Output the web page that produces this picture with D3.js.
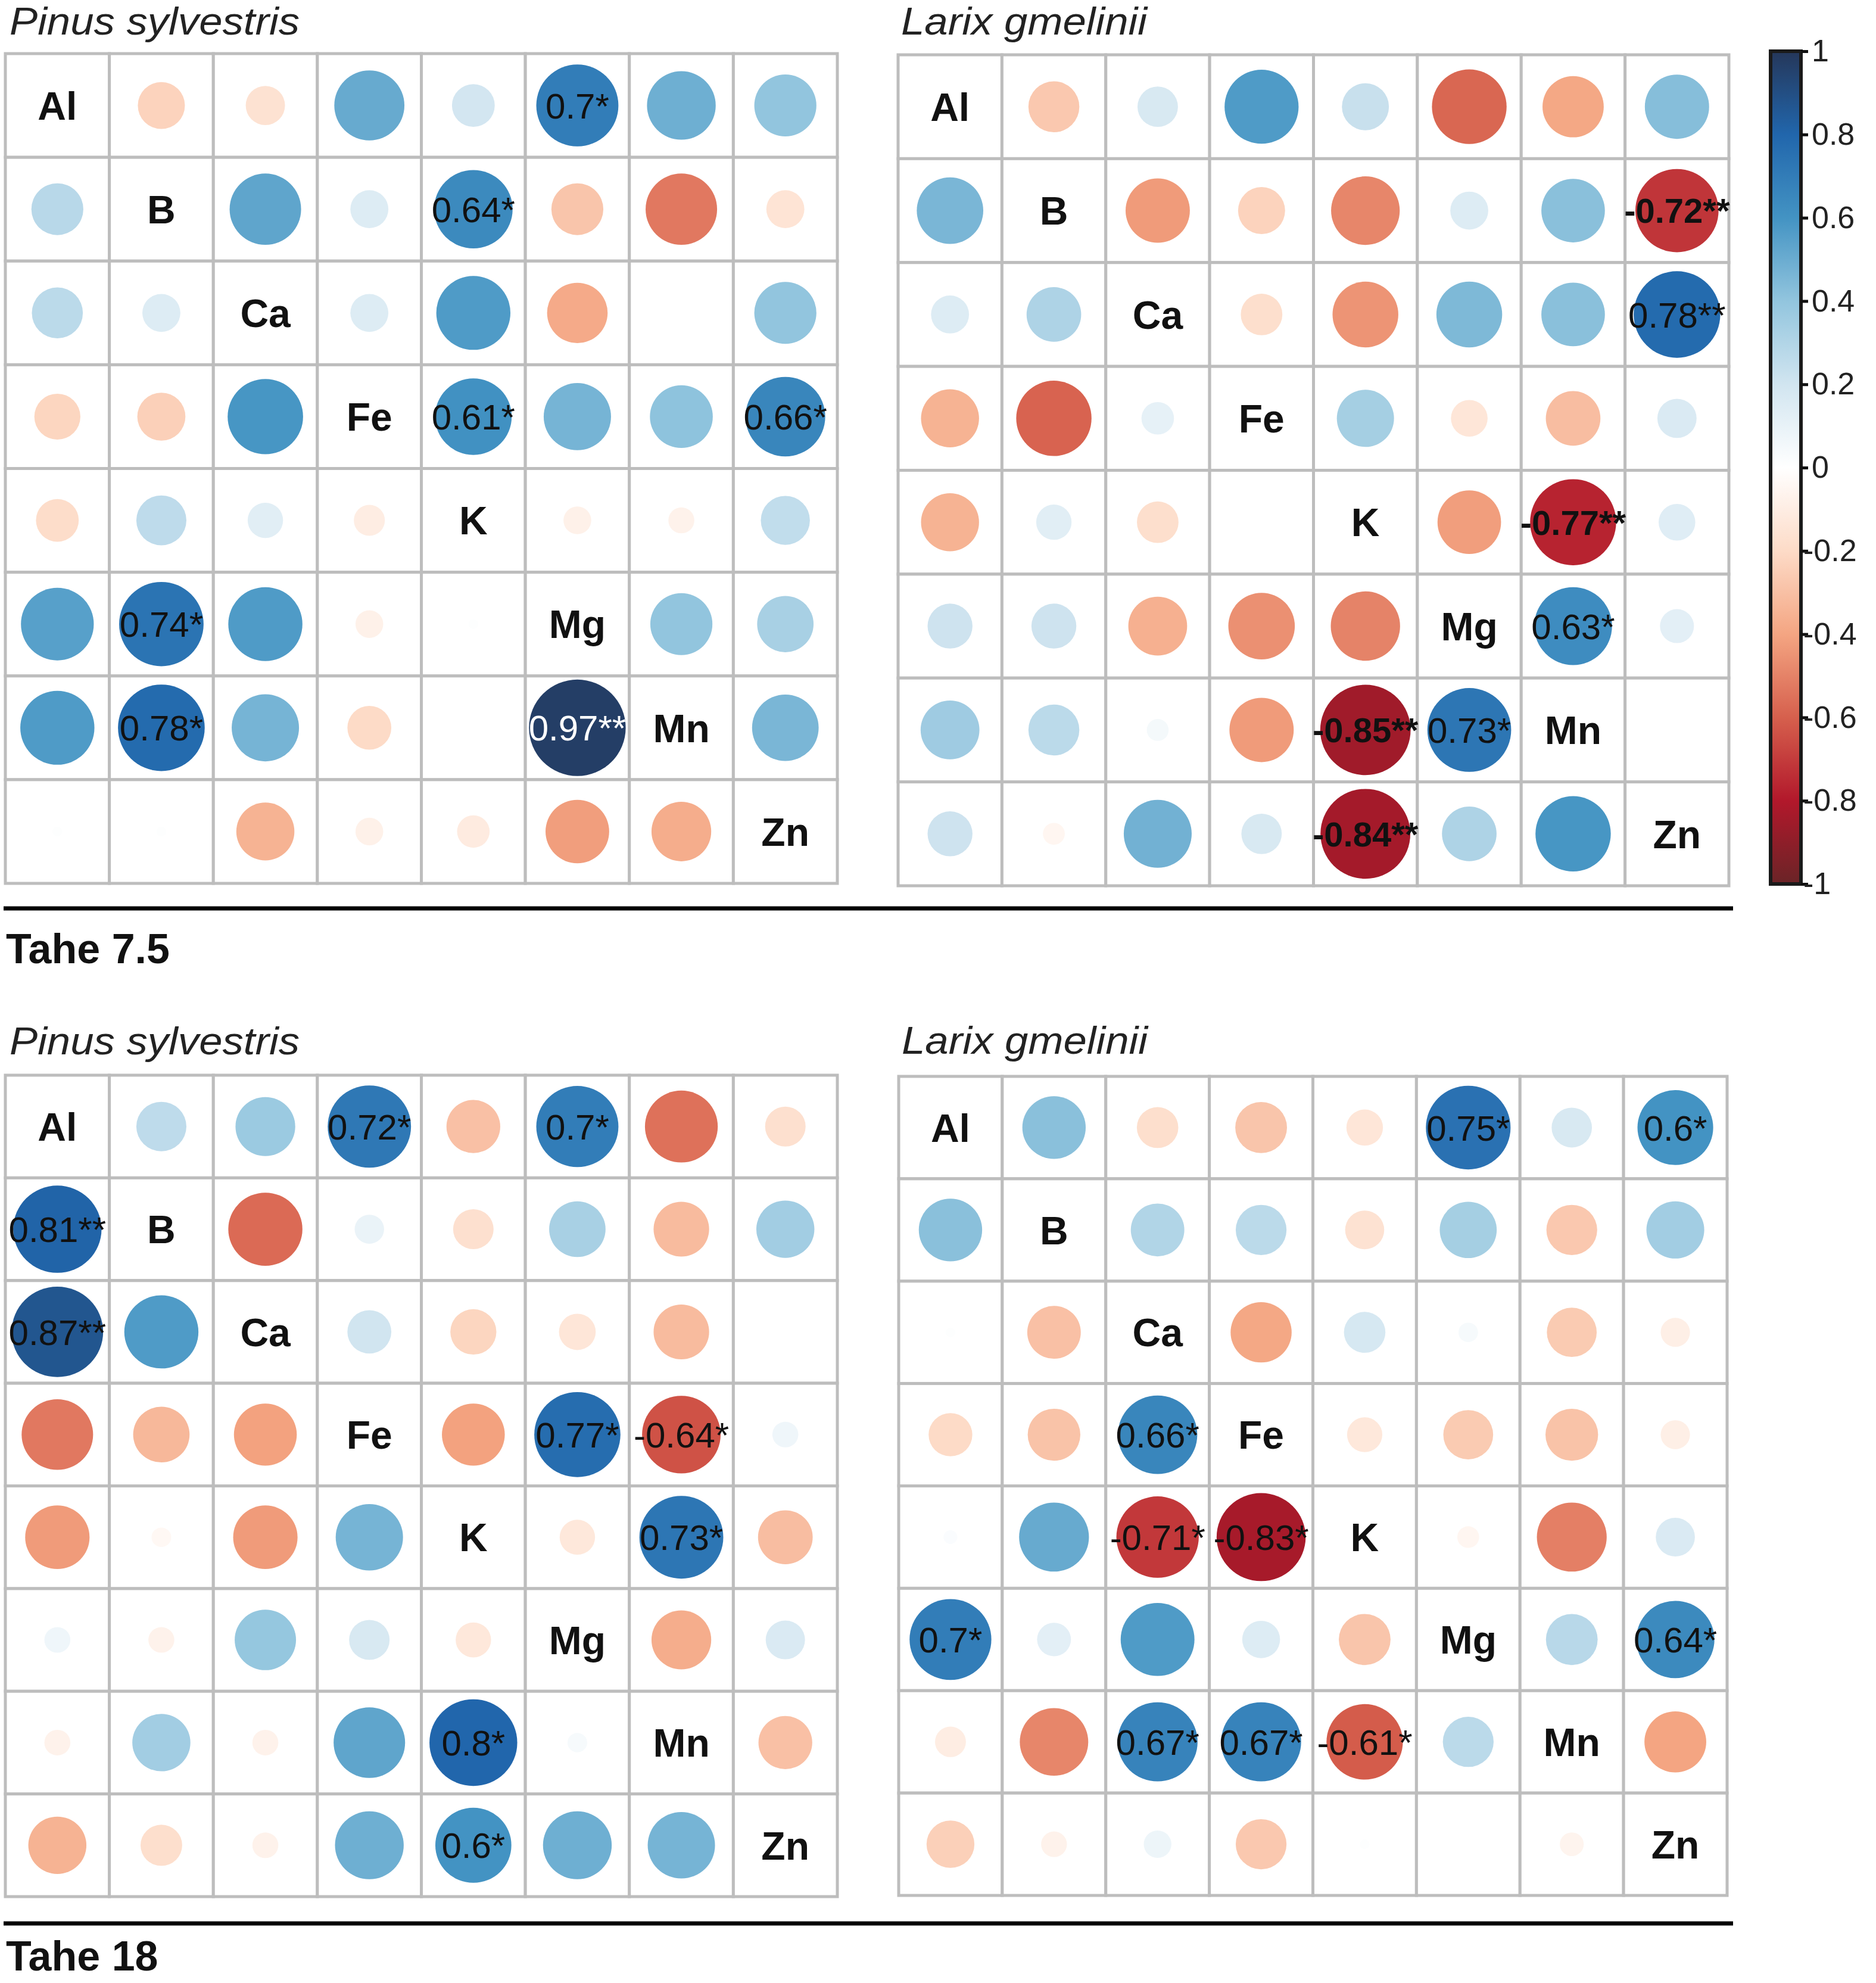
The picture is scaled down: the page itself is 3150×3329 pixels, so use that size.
<!DOCTYPE html>
<meta charset="utf-8">
<style>
html, body {
  margin: 0;
  background: #fff;
}
svg text {
  font-family: "Liberation Sans", Arial, Helvetica, sans-serif;
}
</style>
<title>Tahe element correlations</title>
<body>
<script src="https://cdn.jsdelivr.net/npm/d3@7/dist/d3.min.js"></script>
<script>
var width = 3150,
    height = 3329;

// element order, rows and columns of every matrix
var elements = ["Al", "B", "Ca", "Fe", "K", "Mg", "Mn", "Zn"];

// Tahe 7.5 - Pinus sylvestris
var tahe75Pinus = [
  [1, -0.23, -0.16, 0.51, 0.19, 0.70, 0.49, 0.40],
  [0.28, 1, 0.53, 0.15, 0.64, -0.28, -0.53, -0.15],
  [0.27, 0.15, 1, 0.15, 0.57, -0.38, 0.00, 0.40],
  [-0.22, -0.24, 0.59, 1, 0.61, 0.47, 0.41, 0.66],
  [-0.19, 0.26, 0.13, -0.10, 1, -0.08, -0.07, 0.25],
  [0.55, 0.74, 0.57, -0.08, 0.01, 1, 0.40, 0.33],
  [0.57, 0.78, 0.47, -0.20, 0.00, 0.97, 1, 0.46],
  [0.01, 0.01, -0.35, -0.08, -0.11, -0.42, -0.37, 1]
];
var tahe75PinusSig = [["Al", "Mg", "*"], ["B", "K", "*"], ["Fe", "K", "*"], ["Fe", "Zn", "*"],
  ["Mg", "B", "*"], ["Mn", "B", "*"], ["Mn", "Mg", "**"]];

// Tahe 7.5 - Larix gmelinii
var tahe75Larix = [
  [1, -0.27, 0.17, 0.57, 0.23, -0.58, -0.39, 0.43],
  [0.46, 1, -0.43, -0.23, -0.49, 0.15, 0.42, -0.72],
  [0.15, 0.31, 1, -0.18, -0.45, 0.45, 0.42, 0.78],
  [-0.35, -0.59, 0.11, 1, 0.34, -0.14, -0.31, 0.16],
  [-0.35, 0.13, -0.18, 0.00, 1, -0.42, -0.77, 0.14],
  [0.21, 0.21, -0.36, -0.46, -0.50, 1, 0.63, 0.12],
  [0.36, 0.27, 0.05, -0.43, -0.85, 0.73, 1, 0.00],
  [0.21, -0.05, 0.48, 0.17, -0.84, 0.31, 0.59, 1]
];
var tahe75LarixSig = [["B", "Zn", "**"], ["Ca", "Zn", "**"], ["K", "Mn", "**"], ["Mg", "Mn", "*"],
  ["Mn", "K", "**"], ["Mn", "Mg", "*"], ["Zn", "K", "**"]];

// Tahe 18 - Pinus sylvestris
var tahe18Pinus = [
  [1, 0.26, 0.37, 0.72, -0.30, 0.70, -0.55, -0.17],
  [0.81, 1, -0.57, 0.09, -0.17, 0.33, -0.32, 0.35],
  [0.87, 0.57, 1, 0.20, -0.22, -0.14, -0.32, 0.00],
  [-0.53, -0.33, -0.41, 1, -0.41, 0.77, -0.64, 0.07],
  [-0.43, -0.04, -0.43, 0.47, 1, -0.13, 0.73, -0.31],
  [0.07, -0.07, 0.39, 0.17, -0.13, 1, -0.37, 0.16],
  [-0.07, 0.35, -0.07, 0.53, 0.80, 0.04, 1, -0.30],
  [-0.35, -0.18, -0.07, 0.49, 0.60, 0.49, 0.47, 1]
];
var tahe18PinusSig = [["Al", "Fe", "*"], ["Al", "Mg", "*"], ["B", "Al", "**"], ["Ca", "Al", "**"],
  ["Fe", "Mg", "*"], ["Fe", "Mn", "*"], ["K", "Mn", "*"], ["Mn", "K", "*"], ["Zn", "K", "*"]];

// Tahe 18 - Larix gmelinii
var tahe18Larix = [
  [1, 0.42, -0.18, -0.28, -0.14, 0.75, 0.17, 0.60],
  [0.42, 1, 0.30, 0.27, -0.16, 0.34, -0.27, 0.35],
  [0.01, -0.30, 1, -0.39, 0.18, 0.04, -0.26, -0.09],
  [-0.20, -0.29, 0.66, 1, -0.13, -0.26, -0.29, -0.09],
  [0.02, 0.51, -0.71, -0.83, 1, -0.05, -0.51, 0.16],
  [0.70, 0.12, 0.57, 0.15, -0.28, 1, 0.28, 0.64],
  [-0.10, -0.49, 0.67, 0.67, -0.61, 0.27, 1, -0.40],
  [-0.24, -0.07, 0.08, -0.27, 0.01, 0.00, -0.06, 1]
];
var tahe18LarixSig = [["Al", "Mg", "*"], ["Al", "Zn", "*"], ["Fe", "Ca", "*"], ["K", "Ca", "*"],
  ["K", "Fe", "*"], ["Mg", "Al", "*"], ["Mg", "Zn", "*"], ["Mn", "Ca", "*"], ["Mn", "Fe", "*"],
  ["Mn", "K", "*"]];

var siteLabels = ["Tahe 7.5", "Tahe 18"];
var speciesLabels = ["Pinus sylvestris", "Larix gmelinii"];
var legendTicks = [1, 0.8, 0.6, 0.4, 0.2, 0, -0.2, -0.4, -0.6, -0.8, -1];

// RdBu palette (corrplot style, ends a bit muted as in the figure), -1 to 1
var palette = ["#6A2427", "#B2182B", "#D6604D", "#F4A582", "#FDDBC7", "#FFFFFF",
               "#D1E5F0", "#92C5DE", "#4393C3", "#2166AC", "#25375A"];

var color = d3.scaleLinear()
    .domain(d3.range(palette.length).map(function(i) { return -1 + 2 * i / (palette.length - 1); }))
    .range(palette)
    .interpolate(d3.interpolateRgb);

var panels = [
  {vals: tahe75Pinus, sig: tahe75PinusSig, title: speciesLabels[0], x0: 9, x1: 1406, y0: 90, y1: 1483, tx: 16, ty: 58},
  {vals: tahe75Larix, sig: tahe75LarixSig, title: speciesLabels[1], x0: 1508, x1: 2903, y0: 92, y1: 1487, tx: 1513, ty: 58},
  {vals: tahe18Pinus, sig: tahe18PinusSig, title: speciesLabels[0], x0: 9, x1: 1406, y0: 1805, y1: 3184, tx: 16, ty: 1770},
  {vals: tahe18Larix, sig: tahe18LarixSig, title: speciesLabels[1], x0: 1509, x1: 2900, y0: 1807, y1: 3182, tx: 1514, ty: 1769}
];

var svg = d3.select("body").append("svg")
    .attr("width", width)
    .attr("height", height)
    .style("display", "block");

svg.append("rect")
    .attr("width", width)
    .attr("height", height)
    .attr("fill", "#fff");

function fmt(v) {
  return String(+v.toFixed(2));
}

function drawPanel(p) {
  var x = d3.scaleBand().domain(elements).range([p.x0, p.x1]);
  var y = d3.scaleBand().domain(elements).range([p.y0, p.y1]);
  var rx = d3.scaleSqrt().domain([0, 1]).range([0, x.bandwidth() * 0.472]);
  var ry = d3.scaleSqrt().domain([0, 1]).range([0, y.bandwidth() * 0.472]);

  var sigMap = {};
  p.sig.forEach(function(s) { sigMap[s[0] + "|" + s[1]] = s[2]; });

  var cells = [];
  p.vals.forEach(function(row, i) {
    row.forEach(function(v, j) {
      cells.push({row: elements[i], col: elements[j], v: v, diag: i === j,
                  stars: sigMap[elements[i] + "|" + elements[j]]});
    });
  });

  var g = svg.append("g");

  g.append("text")
    .attr("x", p.tx)
    .attr("y", p.ty)
    .attr("font-size", 64)
    .attr("font-style", "italic")
    .attr("fill", "#222")
    .attr("textLength", p.title === speciesLabels[0] ? 487 : 413)
    .attr("lengthAdjust", "spacingAndGlyphs")
    .text(p.title);

  g.selectAll("rect.cell")
    .data(cells)
    .enter().append("rect")
    .attr("class", "cell")
    .attr("x", function(d) { return x(d.col); })
    .attr("y", function(d) { return y(d.row); })
    .attr("width", x.bandwidth())
    .attr("height", y.bandwidth())
    .attr("fill", "#fff")
    .attr("stroke", "#bdbdbd")
    .attr("stroke-width", 5);

  g.selectAll("ellipse")
    .data(cells.filter(function(d) { return !d.diag; }))
    .enter().append("ellipse")
    .attr("cx", function(d) { return x(d.col) + x.bandwidth() / 2; })
    .attr("cy", function(d) { return y(d.row) + y.bandwidth() / 2; })
    .attr("rx", function(d) { return rx(Math.abs(d.v)); })
    .attr("ry", function(d) { return ry(Math.abs(d.v)); })
    .attr("fill", function(d) { return color(d.v); });

  g.selectAll("text.diag")
    .data(cells.filter(function(d) { return d.diag; }))
    .enter().append("text")
    .attr("class", "diag")
    .attr("x", function(d) { return x(d.col) + x.bandwidth() / 2; })
    .attr("y", function(d) { return y(d.row) + y.bandwidth() / 2; })
    .attr("dy", "0.36em")
    .attr("text-anchor", "middle")
    .attr("font-size", 66)
    .attr("font-weight", "bold")
    .attr("fill", "#111")
    .text(function(d) { return d.row; });

  g.selectAll("text.val")
    .data(cells.filter(function(d) { return d.stars; }))
    .enter().append("text")
    .attr("class", "val")
    .attr("x", function(d) { return x(d.col) + x.bandwidth() / 2; })
    .attr("y", function(d) { return y(d.row) + y.bandwidth() / 2; })
    .attr("dy", "0.36em")
    .attr("text-anchor", "middle")
    .attr("font-size", function(d) { return d.v < 0 && d.stars === "**" ? 58 : 60; })
    .attr("font-weight", function(d) { return d.v < 0 && d.stars === "**" ? "bold" : "normal"; })
    .attr("fill", function(d) { return Math.abs(d.v) > 0.9 ? "#fff" : "#111"; })
    .text(function(d) { return fmt(d.v) + d.stars; });
}

panels.forEach(drawPanel);

// separators and site labels
var sepY = [1525, 3229],
    siteY = [1617, 3308];

svg.selectAll("line.sep")
  .data(sepY)
  .enter().append("line")
  .attr("class", "sep")
  .attr("x1", 6)
  .attr("x2", 2910)
  .attr("y1", function(d) { return d; })
  .attr("y2", function(d) { return d; })
  .attr("stroke", "#000")
  .attr("stroke-width", 7);

svg.selectAll("text.site")
  .data(siteLabels)
  .enter().append("text")
  .attr("class", "site")
  .attr("x", 10)
  .attr("y", function(d, i) { return siteY[i]; })
  .attr("font-size", 70)
  .attr("font-weight", "bold")
  .attr("fill", "#111")
  .text(function(d) { return d; });

// colour legend
var ly = d3.scaleLinear().domain([-1, 1]).range([1484, 86]);

var grad = svg.append("defs").append("linearGradient")
    .attr("id", "legend-grad")
    .attr("x1", 0).attr("y1", 1)
    .attr("x2", 0).attr("y2", 0);

grad.selectAll("stop")
  .data(color.domain())
  .enter().append("stop")
  .attr("offset", function(d) { return (d + 1) / 2; })
  .attr("stop-color", function(d) { return color(d); });

svg.append("rect")
    .attr("x", 2973)
    .attr("y", ly(1))
    .attr("width", 51)
    .attr("height", ly(-1) - ly(1))
    .attr("fill", "url(#legend-grad)")
    .attr("stroke", "#1a1a1a")
    .attr("stroke-width", 6);

var axis = svg.append("g")
    .attr("transform", "translate(3024,0)")
    .call(d3.axisRight(ly)
      .tickValues(legendTicks)
      .tickSize(12)
      .tickPadding(6)
      .tickFormat(function(d) { return String(d); }));

axis.select(".domain").remove();
axis.selectAll(".tick line").attr("stroke", "#111").attr("stroke-width", 5);
axis.selectAll(".tick text")
    .attr("font-size", 52)
    .attr("font-family", "'Liberation Sans', Arial, sans-serif")
    .attr("fill", "#222")
    .attr("x", function(d) { return d < 0 ? 4 : 18; });
</script>
</body>
